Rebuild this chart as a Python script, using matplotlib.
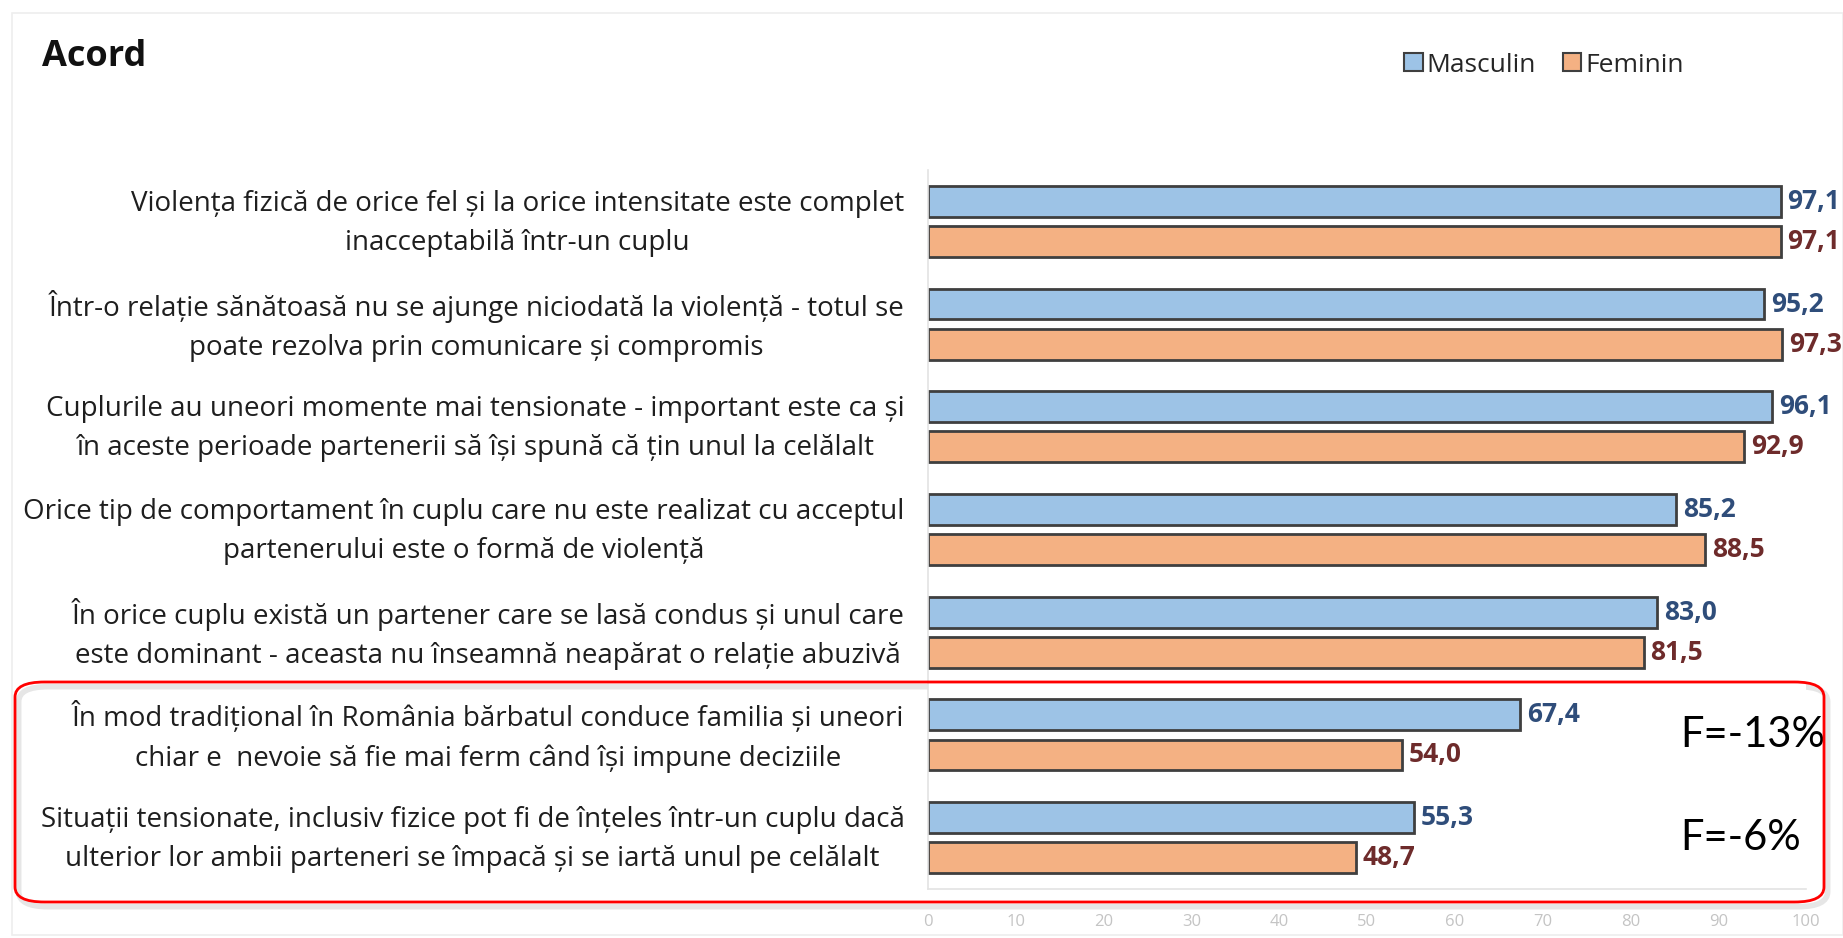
import matplotlib
matplotlib.use("Agg")
import matplotlib.pyplot as plt
import matplotlib.transforms as mtransforms
from matplotlib.patches import FancyBboxPatch, Rectangle, Patch

categories = [
    "Violența fizică de orice fel și la orice intensitate este complet\ninacceptabilă într-un cuplu",
    "Într-o relație sănătoasă nu se ajunge niciodată la violență - totul se\npoate rezolva prin comunicare și compromis",
    "Cuplurile au uneori momente mai tensionate - important este ca și\nîn aceste perioade partenerii să își spună că țin unul la celălalt",
    "Orice tip de comportament în cuplu care nu este realizat cu acceptul\npartenerului este o formă de violență",
    "În orice cuplu există un partener care se lasă condus și unul care\neste dominant - aceasta nu înseamnă neapărat o relație abuzivă",
    "În mod tradițional în România bărbatul conduce familia și uneori\nchiar e  nevoie să fie mai ferm când își impune deciziile",
    "Situații tensionate, inclusiv fizice pot fi de înțeles într-un cuplu dacă\nulterior lor ambii parteneri se împacă și se iartă unul pe celălalt",
]
masculin = [97.1, 95.2, 96.1, 85.2, 83.0, 67.4, 55.3]
feminin = [97.1, 97.3, 92.9, 88.5, 81.5, 54.0, 48.7]
series_names = ["Masculin", "Feminin"]
xticks = [0, 10, 20, 30, 40, 50, 60, 70, 80, 90, 100]
title = "Acord"
notes = {5: "F=-13%", 6: "F=-6%"}

W, H = 1843, 938
fig = plt.figure(figsize=(W / 100, H / 100), dpi=100)
fig.patch.set_facecolor("white")

ax_left, ax_right = 928 / W, 1806 / W
ax_top, ax_bot = 170 / H, 889 / H
ax = fig.add_axes([ax_left, 1 - ax_bot, ax_right - ax_left, ax_bot - ax_top])

blue = "#9DC3E6"
orange = "#F4B183"
edge = "#3F3F3F"
blue_txt = "#2F4D7A"
orange_txt = "#6E2B2B"

off = 0.195
h = 0.30
ys = list(range(len(categories)))
ax.barh([y - off for y in ys], masculin, height=h, color=blue, edgecolor=edge, linewidth=2.0)
ax.barh([y + off for y in ys], feminin, height=h, color=orange, edgecolor=edge, linewidth=2.0)

for y, m, f in zip(ys, masculin, feminin):
    ax.text(m + 0.8, y - off, f"{m:.1f}".replace(".", ","), va="center", ha="left",
            fontsize=19, fontweight="bold", color=blue_txt, family="Open Sans")
    ax.text(f + 0.8, y + off, f"{f:.1f}".replace(".", ","), va="center", ha="left",
            fontsize=19, fontweight="bold", color=orange_txt, family="Open Sans")

ax.set_xlim(0, 100)
ax.set_ylim(len(categories) - 0.5, -0.5)
ax.set_xticks(xticks)
ax.set_xticklabels([str(t) for t in xticks], fontsize=12, color="#C4C4C4", family="Open Sans")
ax.tick_params(axis="x", length=0, pad=18)
ax.set_yticks([y - 0.07 for y in ys])
ax.set_yticklabels(categories, fontsize=20, color="#1E1E1E", family="Open Sans",
                   multialignment="center", linespacing=1.53)
ax.tick_params(axis="y", length=0, pad=17)
for s in ["top", "right"]:
    ax.spines[s].set_visible(False)
ax.spines["left"].set_color("#E3E3E3")
ax.spines["bottom"].set_color("#E3E3E3")
ax.spines["left"].set_linewidth(1.2)
ax.spines["bottom"].set_linewidth(1.2)

# title
fig.text(42 / W, 1 - 57 / H, title, fontsize=26, fontweight="bold", family="Open Sans",
         va="center", ha="left", color="#111111")

# legend
handles = [Patch(facecolor=blue, edgecolor=edge, linewidth=1.5),
           Patch(facecolor=orange, edgecolor=edge, linewidth=1.5)]
leg = fig.legend(handles, series_names, loc="center", bbox_to_anchor=(1544 / W, 1 - 65 / H),
                 ncol=2, frameon=False, prop={"family": "Open Sans", "size": 19},
                 handlelength=0.7, handleheight=0.7, handletextpad=0.15, columnspacing=1.0)
for t in leg.get_texts():
    t.set_color("#262626")

# outer faint frame
fig.add_artist(Rectangle((12 / W, 1 - 935 / H), (W - 12) / W, (935 - 13) / H,
                         transform=fig.transFigure, fill=False, edgecolor="#EEEEEE", linewidth=1.2))

# red rounded box with light shadow
bx0, bx1, by0, by1 = 15, 1824, 682, 902
fig.add_artist(FancyBboxPatch((bx0 / W + 0.002, 1 - by1 / H - 0.005), (bx1 - bx0) / W, (by1 - by0) / H,
                              boxstyle="round,pad=0,rounding_size=0.016", transform=fig.transFigure,
                              fill=False, edgecolor="#E6E6E6", linewidth=4, zorder=0))
fig.add_artist(FancyBboxPatch((bx0 / W, 1 - by1 / H), (bx1 - bx0) / W, (by1 - by0) / H,
                              boxstyle="round,pad=0,rounding_size=0.016", transform=fig.transFigure,
                              fill=False, edgecolor="#FF0000", linewidth=2.0, zorder=5))

trans = mtransforms.blended_transform_factory(fig.transFigure, ax.transData)
for idx, txt in notes.items():
    ax.text(1680 / W, idx, txt, transform=trans, fontsize=30, family="Lato",
            va="center", ha="left", color="black", clip_on=False)

fig.savefig("out.png", dpi=100, facecolor="white")
